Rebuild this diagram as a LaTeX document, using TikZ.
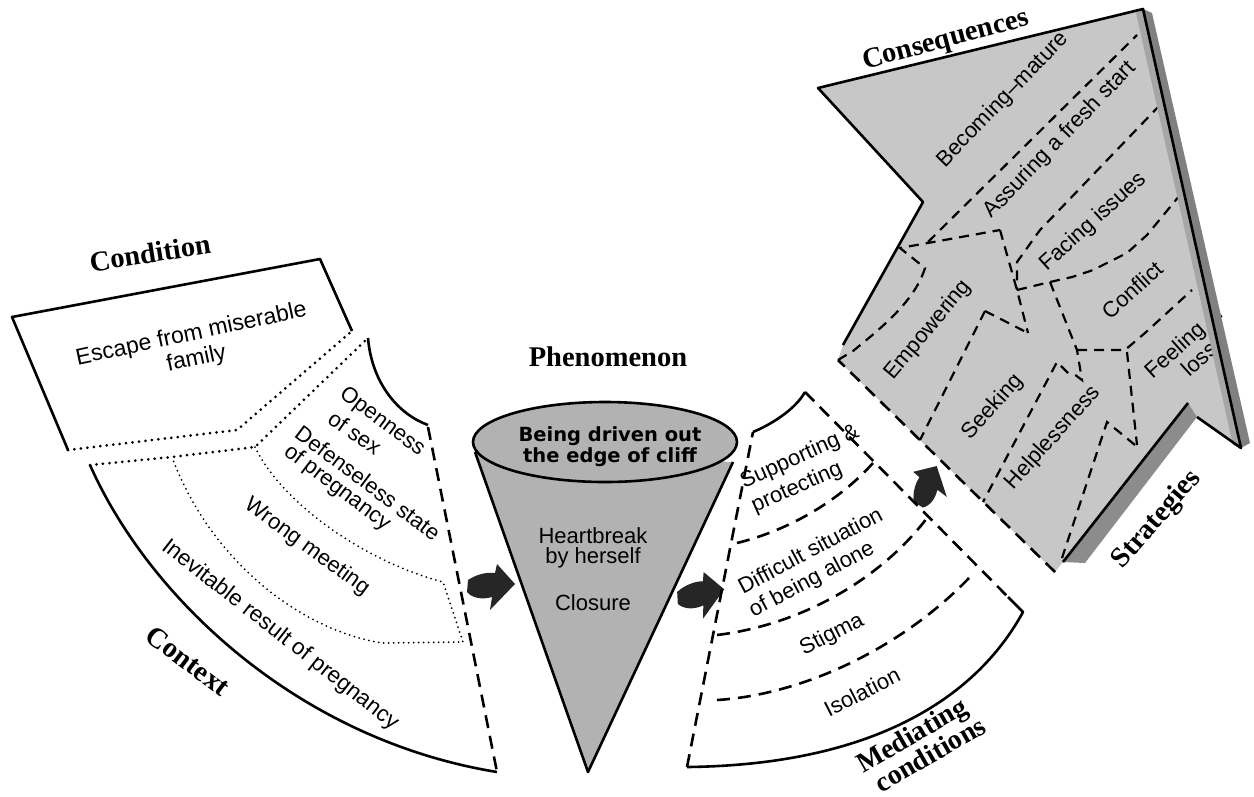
\documentclass[tikz,border=0pt]{standalone}
\usepackage{fontspec}
\setmainfont{Liberation Serif}
\newfontfamily\arial{Liberation Sans}
\newfontfamily\dejav{DejaVu Sans}
\begin{document}
\begin{tikzpicture}[x=1pt,y=-1pt,
  solidln/.style={line width=2.6pt, line join=round},
  dashln/.style={line width=2.6pt, dash pattern=on 13pt off 8pt},
  dashthin/.style={line width=2.2pt, dash pattern=on 10pt off 7pt},
  dotln/.style={line width=3pt, line cap=round, dash pattern=on 0pt off 6.5pt},
  dotthin/.style={line width=2pt, line cap=round, dash pattern=on 0pt off 5pt},
  txt/.style={font=\arial\fontsize{22}{24}\selectfont, inner sep=0pt},
  lbl/.style={font=\bfseries\fontsize{28.5}{29}\selectfont, inner sep=0pt},
  curvarrow/.pic={\fill[black!85] (1,-6) .. controls (10,-12) and (20,-14) .. (28,-13) -- (30,-22) -- (48,-2) -- (23,24) -- (25,11) .. controls (15,14) and (5,12) .. (0,6) -- cycle;}
]
\useasboundingbox (0,0) rectangle (1254,796);

% ---------------- LEFT FAN ----------------
\draw[solidln] (68,450) -- (12,317) -- (320,259) -- (352,331);
\draw[dotln] (68,450) -- (237,430) -- (352,331);
\draw[dotln] (90,465) -- (172,457) -- (255,447) -- (368,338);
\draw[solidln] (368,338) .. controls (372,385) and (400,415) .. (428,425);
\draw[dashln] (428,427) -- (497,772);
\draw[solidln] (90,465) .. controls (150,600) and (300,740) .. (497,772);
\draw[dotthin] (255,447) .. controls (280,500) and (360,560) .. (443,582) -- (463,642) -- (382,643) .. controls (300,630) and (210,560) .. (172,457);

\node[lbl, rotate=9] (condition) at (150,253) {Condition};
\node[lbl, rotate=-37] (context) at (188,661) {Context};
\node[txt, rotate=12, align=center, font=\arial\fontsize{23}{25}\selectfont] (escape) at (194,347) {Escape from miserable\\family};
\node[txt, rotate=-37] (open1) at (382,422) {Openness};
\node[txt, rotate=-35] (open2) at (355,433) {of sex};
\node[txt, rotate=-37] (def1) at (368,483) {Defenseless state};
\node[txt, rotate=-37] (def2) at (337,488) {of pregnancy};
\node[txt, rotate=-36] (wrong) at (307,547) {Wrong meeting};
\node[txt, rotate=-38, font=\arial\fontsize{22.5}{24}\selectfont] (inev) at (280,635) {Inevitable result of pregnancy};

% ---------------- CONE ----------------
\fill[black!30] (475,452) -- (588,772) -- (733,462) -- cycle;
\draw[solidln] (475,452) -- (588,772) -- (733,462);
\draw[solidln, fill=black!30] (605,442) ellipse [x radius=132, y radius=40];
\node[lbl] (phen) at (608,357) {Phenomenon};
\node[font=\dejav\bfseries\fontsize{19.5}{21}\selectfont, align=center, inner sep=0pt] (being) at (610,447) {Being driven out\\the edge of cliff};
\node[txt, align=center, font=\arial\fontsize{22}{20}\selectfont] (heart) at (593,548) {Heartbreak\\by herself};
\node[txt] (closure) at (593,603) {Closure};

% block arrows
\pic at (467,586) {curvarrow};
\pic[rotate=8] at (677,598) {curvarrow};
\pic[rotate=62, scale=0.9] at (918,505) {curvarrow};

% ---------------- MEDIATING ----------------
\draw[dashln] (687,767) -- (753,432);
\draw[solidln] (753,432) .. controls (770,425) and (795,410) .. (805,392);
\draw[dashln] (805,392) -- (1010,599);
\draw[solidln] (1008,597) -- (1023,612) .. controls (975,700) and (870,765) .. (687,767);
\draw[dashln] (737,543) .. controls (790,530) and (840,500) .. (873,463);
\draw[dashln] (717,635) .. controls (800,625) and (880,580) .. (927,518);
\draw[dashln] (717,700) .. controls (800,695) and (900,650) .. (970,577);

\node[txt, rotate=24] (supp) at (800,457) {Supporting \&};
\node[txt, rotate=24] (prot) at (797,488) {protecting};
\node[txt, rotate=28] (diff1) at (810,550) {Difficult situation};
\node[txt, rotate=28] (diff2) at (812,580) {of being alone};
\node[txt, rotate=27] (stigma) at (832,635) {Stigma};
\node[txt, rotate=27] (isol) at (862,692) {Isolation};
\node[lbl, rotate=30, font=\bfseries\fontsize{28}{29}\selectfont] (med1) at (913,737) {Mediating};
\node[lbl, rotate=30, font=\bfseries\fontsize{28}{29}\selectfont] (med2) at (930,754) {conditions};

% ---------------- CONSEQUENCES ARROW ----------------
\fill[black!22] (818,88) -- (1143,9) -- (1241,448) -- (1197,417) -- (1188,403) -- (1063,562) -- (1055,572) -- (838,360) -- (843,345) -- (923,202) -- cycle;

\draw[dashln] (1055,572) -- (838,360);
\draw[dashthin] (838,360) -- (853,351) .. controls (885,325) and (915,300) .. (925,268) -- (900,248) -- (1000,230);
\draw[dashthin] (928,242) -- (1137,35);
\draw[dashthin] (1000,230) -- (1017,290) -- (1028,333);
\draw[dashthin] (985,311) -- (1028,333);
\draw[dashthin] (985,311) -- (920,440);
\draw[dashthin] (1160,105) -- (1040,230) -- (1017,262) -- (1017,290);
\draw[dashthin] (1017,290) -- (1050,282) -- (1072,277) -- (1093,270) -- (1127,253) -- (1147,235) -- (1180,195);
\draw[dashthin] (1050,282) -- (1077,350) -- (1082,380) -- (1070,371);
\draw[dashthin] (1077,350) -- (1125,350) -- (1145,333) -- (1192,290);
\draw[dashthin] (1127,352) -- (1137,445);
\draw[dashthin] (1135,445) -- (1107,422) -- (1062,558);
\draw[dashthin] (1068,373) -- (1057,362) -- (983,502);

\node[lbl, rotate=15] (conseq) at (946,41) {Consequences};
\node[txt, rotate=46] (becoming) at (1003,100) {Becoming–mature};
\node[txt, rotate=46] (assuring) at (1060,140) {Assuring a fresh start};
\node[txt, rotate=42] (facing) at (1093,222) {Facing issues};
\node[txt, rotate=42] (conflict) at (1132,290) {Conflict};
\node[txt, rotate=42, align=center, font=\arial\fontsize{22}{23}\selectfont] (feeling) at (1191,350) {Feeling of\\loss};
\node[txt, rotate=50] (empow) at (928,330) {Empowering};
\node[txt, rotate=48] (seeking) at (993,407) {Seeking};
\node[txt, rotate=48] (helpless) at (1053,438) {Helplessness};
\node[lbl, rotate=49] (strat) at (1157,520) {Strategies};

% 3D strips
\fill[black!35] (1143,9) -- (1241,448) -- (1233,445) -- (1136,13) -- cycle;
\fill[black!50] (1143,9) -- (1152,13) -- (1250,443) -- (1241,448) -- cycle;
\fill[black!45] (1188,403) -- (1197,417) -- (1085,563) -- (1063,562) -- cycle;

\draw[solidln] (843,345) -- (923,202) -- (818,88) -- (1143,9) -- (1241,448) -- (1197,417);
\draw[solidln] (1188,403) -- (1063,562);
\end{tikzpicture}
\end{document}
